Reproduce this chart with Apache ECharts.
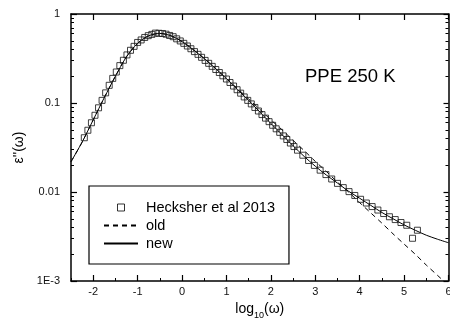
<!DOCTYPE html>
<html><head><meta charset="utf-8">
<script src="https://cdn.jsdelivr.net/npm/echarts@6/dist/echarts.min.js"></script>
<style>html,body{margin:0;padding:0;background:#fff}#c{width:450px;height:318px}</style>
</head><body><div id="c"></div>
<script>
// Hecksher et al 2013 data (log10 omega, eps'')
const dataX = [-2.2,-2.12,-2.04,-1.96,-1.88,-1.8,-1.72,-1.64,-1.56,-1.48,-1.4,-1.32,-1.24,-1.16,-1.08,-1.0,-0.92,-0.84,-0.76,-0.68,-0.6,-0.52,-0.44,-0.36,-0.28,-0.2,-0.12,-0.04,0.04,0.12,0.2,0.28,0.36,0.44,0.52,0.6,0.68,0.76,0.84,0.92,1.0,1.08,1.16,1.24,1.32,1.4,1.48,1.56,1.64,1.72,1.8,1.88,1.96,2.04,2.12,2.2,2.28,2.36,2.44,2.52,2.6,2.72,2.85,2.98,3.11,3.24,3.37,3.5,3.63,3.76,3.89,4.02,4.15,4.28,4.41,4.54,4.67,4.8,4.93,5.06,5.19,5.3];
const dataY = [0.0407,0.0494,0.0600,0.0728,0.0883,0.107,0.130,0.158,0.189,0.223,0.263,0.302,0.347,0.391,0.433,0.479,0.511,0.545,0.571,0.590,0.610,0.607,0.604,0.593,0.574,0.556,0.526,0.498,0.468,0.437,0.407,0.378,0.352,0.326,0.301,0.279,0.258,0.238,0.220,0.202,0.186,0.170,0.155,0.141,0.129,0.117,0.107,0.0977,0.0891,0.0813,0.0741,0.0676,0.0617,0.0562,0.0513,0.0468,0.0427,0.0389,0.0355,0.0324,0.0295,0.0259,0.0226,0.0199,0.0176,0.0157,0.0140,0.0125,0.0112,0.0101,0.00914,0.00828,0.00752,0.00686,0.00627,0.00573,0.00527,0.00490,0.00454,0.00423,0.00302,0.00372];
// model curves
const lineX = [-2.5,-2.25,-2.0,-1.75,-1.5,-1.25,-1.0,-0.75,-0.5,-0.25,0,0.25,0.5,0.75,1.0,1.25,1.5,1.75,2.0,2.25,2.5,2.75,3.0,3.25,3.5,3.75,4.0,4.25,4.5,4.75,5.0,5.25,5.5,5.75,6.0];
const newY = [0.0219,0.0363,0.0646,0.115,0.200,0.331,0.468,0.569,0.605,0.569,0.490,0.398,0.316,0.245,0.188,0.141,0.107,0.0794,0.0589,0.0442,0.0331,0.0251,0.0195,0.0155,0.0126,0.0102,0.00851,0.00708,0.00589,0.00501,0.00427,0.00372,0.00327,0.00295,0.00269];
const oldY = [0.0219,0.0363,0.0646,0.115,0.200,0.331,0.468,0.569,0.605,0.569,0.490,0.398,0.316,0.245,0.188,0.145,0.111,0.0851,0.0646,0.0501,0.0380,0.0292,0.0221,0.0170,0.0129,0.0100,0.00759,0.00582,0.00447,0.00339,0.00260,0.00200,0.00151,0.00116,0.000891];
// ticks
const xMajorTicks = [-2,-1,0,1,2,3,4,5,6];
const xMinorTicks = [-2.5,-1.5,-0.5,0.5,1.5,2.5,3.5,4.5,5.5];
const yMajorTicks = [0.001,0.01,0.1,1];
const yTickLabels = ['1E-3','0.01','0.1','1'];
const yMinorTicks = [0.002,0.003,0.004,0.005,0.006,0.007,0.008,0.009,0.02,0.03,0.04,0.05,0.06,0.07,0.08,0.09,0.2,0.3,0.4,0.5,0.6,0.7,0.8,0.9];

const FONT = 'Liberation Sans, Arial, sans-serif';
const INK = '#000';
const chart = echarts.init(document.getElementById('c'), null, {renderer:'canvas'});
const lineS = {color: INK, width: 1.5};
function yLab(v){
  const e = v > 0 ? Math.round(Math.log10(v)) : Math.round(v);
  return yTickLabels[e + 3];
}
const xBase = {type:'value', min:-2.5, max:6, splitLine:{show:false}};
const yBase = {type:'log', logBase:10, min:0.001, max:1, splitLine:{show:false}};
chart.setOption({
  animation:false,
  textStyle:{fontFamily:FONT},
  title:{text:'PPE 250 K', left:305, top:67, textStyle:{fontFamily:FONT, fontSize:18.5, fontWeight:'normal', color:'#000'}, padding:0},
  grid:{left:71, right:1.5, top:14, bottom:37, containLabel:false, outerBoundsMode:'none'},
  legend:{
    orient:'vertical', left:89, top:186, selectedMode:false, symbolKeepAspect:true,
    data:[
      {name:'Hecksher et al 2013', icon:'path://M0,0L10,0L10,10L0,10Z', itemStyle:{color:'rgba(255,255,255,0)', borderColor:'#000', borderWidth:1}},
      {name:'old', itemStyle:{opacity:0}},
      {name:'new', itemStyle:{opacity:0}}
    ],
    itemWidth:34, itemHeight:7, itemGap:3,
    backgroundColor:'#fff', borderColor:'#000', borderWidth:1.2,
    padding:[14,14,13,14],
    textStyle:{fontFamily:FONT, fontSize:14.5, color:'#000', padding:[0,0,0,3]}
  },
  xAxis:[
    Object.assign({}, xBase, {position:'bottom',
      axisLine:{show:true, onZero:false, lineStyle:lineS},
      axisTick:{show:true, inside:true, length:6, customValues:xMajorTicks, lineStyle:{color:INK,width:1.2}},
      axisLabel:{show:true, customValues:xMajorTicks, fontSize:11, color:'#111', margin:5, fontFamily:FONT},
      name:'log{s|10}(ω)', nameLocation:'middle', nameGap:13,
      nameTextStyle:{fontFamily:FONT, fontSize:14, color:'#000', rich:{s:{fontFamily:FONT, fontSize:9, lineHeight:22, verticalAlign:'bottom'}}}
    }),
    Object.assign({}, xBase, {position:'bottom',
      axisLine:{show:false, onZero:false},
      axisTick:{show:true, inside:true, length:3, customValues:xMinorTicks, lineStyle:{color:INK,width:1}},
      axisLabel:{show:false}
    }),
    Object.assign({}, xBase, {position:'top',
      axisLine:{show:true, onZero:false, lineStyle:lineS},
      axisTick:{show:true, inside:true, length:6, customValues:xMajorTicks, lineStyle:{color:INK,width:1.2}},
      axisLabel:{show:false}
    })
  ],
  yAxis:[
    Object.assign({}, yBase, {position:'left',
      axisLine:{show:true, onZero:false, lineStyle:lineS},
      axisTick:{show:true, inside:true, length:6, customValues:yMajorTicks, lineStyle:{color:INK,width:1.2}},
      axisLabel:{show:true, customValues:yMajorTicks, formatter:yLab, fontSize:11, color:'#111', margin:11, fontFamily:FONT},
      name:"ε''(ω)", nameLocation:'middle', nameGap:45, nameRotate:90,
      nameTextStyle:{fontFamily:FONT, fontSize:14, color:'#000'}
    }),
    Object.assign({}, yBase, {position:'left',
      axisLine:{show:false, onZero:false},
      axisTick:{show:true, inside:true, length:3, customValues:yMinorTicks, lineStyle:{color:INK,width:1}},
      axisLabel:{show:false}
    }),
    Object.assign({}, yBase, {position:'right',
      axisLine:{show:true, onZero:false, lineStyle:lineS},
      axisTick:{show:true, inside:true, length:5, customValues:yMajorTicks, lineStyle:{color:INK,width:1.2}},
      axisLabel:{show:false}
    }),
    Object.assign({}, yBase, {position:'right',
      axisLine:{show:false, onZero:false},
      axisTick:{show:true, inside:true, length:3, customValues:yMinorTicks, lineStyle:{color:INK,width:1}},
      axisLabel:{show:false}
    })
  ],
  series:[
    {name:'old', type:'line', xAxisIndex:0, yAxisIndex:0, symbol:'none', smooth:0.3,
     data: lineX.map((x,i)=>[x, oldY[i]]),
     lineStyle:{color:INK, width:1, type:[5,4]}, itemStyle:{color:INK}, z:2},
    {name:'new', type:'line', xAxisIndex:0, yAxisIndex:0, symbol:'none', smooth:0.3,
     data: lineX.map((x,i)=>[x, newY[i]]),
     lineStyle:{color:INK, width:1}, itemStyle:{color:INK}, z:2},
    {name:'Hecksher et al 2013', type:'scatter', xAxisIndex:0, yAxisIndex:0, symbol:'rect', symbolSize:6,
     data: dataX.map((x,i)=>[x, dataY[i]]),
     itemStyle:{color:'rgba(255,255,255,0)', borderColor:'#111', borderWidth:1}, z:3}
  ]
});
</script></body></html>
